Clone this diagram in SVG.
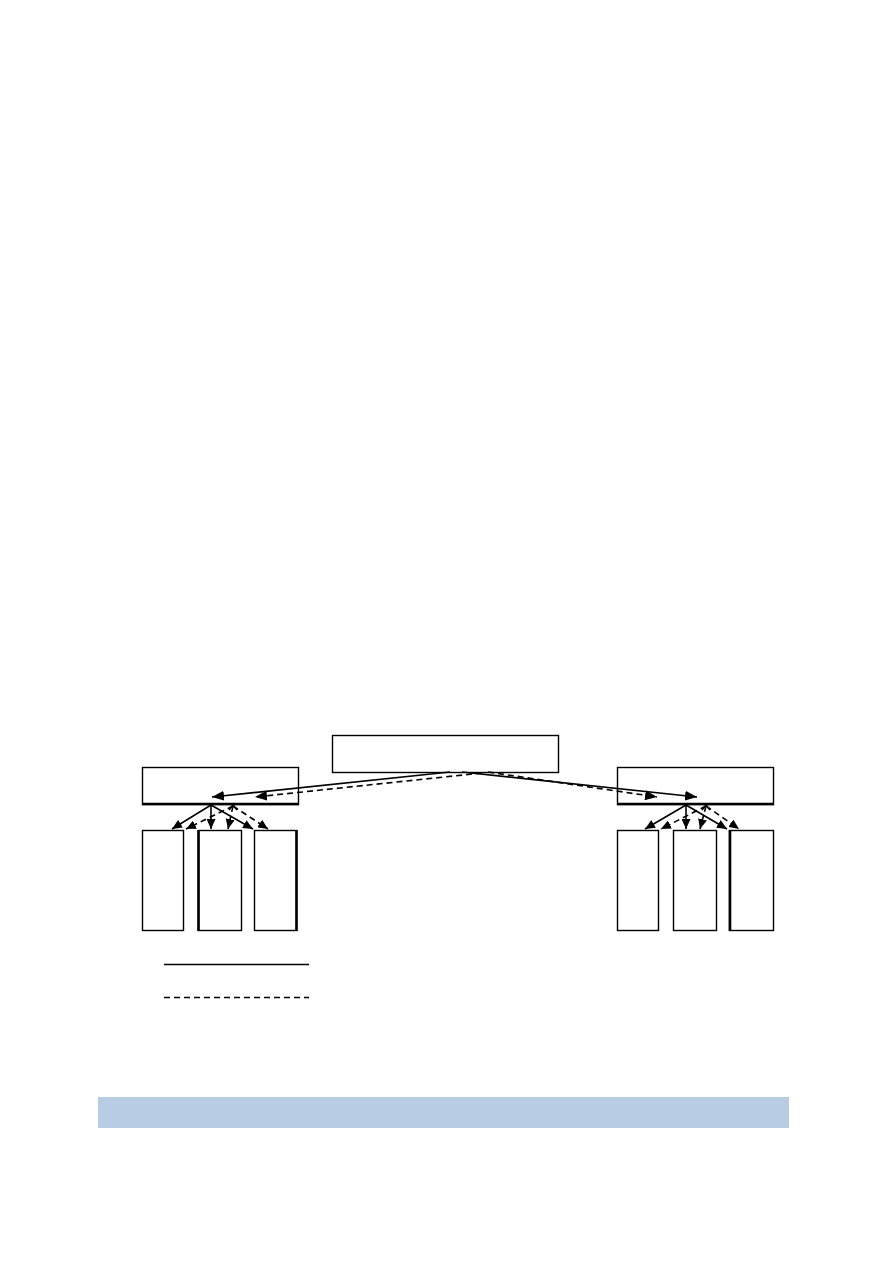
<svg xmlns="http://www.w3.org/2000/svg" width="893" height="1263" viewBox="0 0 893 1263">
<style>
.box{fill:#fff;stroke:#000;stroke-width:1.4}
.thick{stroke:#000;stroke-width:2.6}
.ln{fill:none;stroke:#000;stroke-width:1.6}
.dash{stroke-dasharray:6,4}
</style>
<defs>
<marker id="ah" viewBox="0 0 10 10" refX="10" refY="5" markerWidth="10" markerHeight="9" markerUnits="userSpaceOnUse" orient="auto" preserveAspectRatio="none">
<path d="M0,0 L10,5 L0,10 z" fill="#000"/>
</marker>
<marker id="ah2" viewBox="0 0 10 10" refX="10" refY="5" markerWidth="12" markerHeight="10" markerUnits="userSpaceOnUse" orient="auto" preserveAspectRatio="none">
<path d="M0,0 L10,5 L0,10 z" fill="#000"/>
</marker>
</defs>
<rect width="893" height="1263" fill="#fff"/>
<g id="top"><rect class="box" x="332.5" y="735.5" width="226" height="37"/></g>
<g id="midL"><rect class="box" x="142.5" y="767.5" width="156" height="37"/><line class="thick" x1="142" y1="804" x2="299" y2="804"/></g>
<g id="midR"><rect class="box" x="617.5" y="767.5" width="156" height="37"/><line class="thick" x1="617" y1="804" x2="774" y2="804"/></g>
<g id="L1"><rect class="box" x="142.5" y="830.5" width="41" height="100"/></g>
<g id="L2"><rect class="box" x="198.5" y="830.5" width="43" height="100"/><line class="thick" x1="198.5" y1="830" x2="198.5" y2="931"/></g>
<g id="L3"><rect class="box" x="254.5" y="830.5" width="42" height="100"/><line class="thick" x1="296.5" y1="830" x2="296.5" y2="931"/></g>
<g id="R1"><rect class="box" x="617.5" y="830.5" width="41" height="100"/></g>
<g id="R2"><rect class="box" x="673.5" y="830.5" width="43" height="100"/></g>
<g id="R3"><rect class="box" x="729.5" y="830.5" width="44" height="100"/><line class="thick" x1="730" y1="830" x2="730" y2="931"/></g>
<g id="connectors">
<line class="ln" x1="450" y1="772" x2="212" y2="797" marker-end="url(#ah2)"/>
<line class="ln dash" x1="482" y1="773" x2="255" y2="797" marker-end="url(#ah2)"/>
<line class="ln" x1="462" y1="772" x2="697" y2="797" marker-end="url(#ah2)"/>
<line class="ln dash" x1="488" y1="772" x2="657" y2="797" marker-end="url(#ah2)"/>
<line class="ln" x1="211" y1="805" x2="172" y2="829" marker-end="url(#ah)"/>
<line class="ln" x1="211" y1="805" x2="211" y2="829" marker-end="url(#ah)"/>
<line class="ln" x1="211" y1="805" x2="253" y2="829" marker-end="url(#ah)"/>
<line class="ln dash" x1="233" y1="806" x2="186" y2="829" marker-end="url(#ah)"/>
<line class="ln dash" x1="233" y1="806" x2="228" y2="829" marker-end="url(#ah)"/>
<line class="ln dash" x1="233" y1="806" x2="268" y2="829" marker-end="url(#ah)"/>
<path d="M229,810 L233,805 L237,810" class="ln"/>
<line class="ln" x1="686" y1="805" x2="645" y2="829" marker-end="url(#ah)"/>
<line class="ln" x1="686" y1="805" x2="686" y2="829" marker-end="url(#ah)"/>
<line class="ln" x1="686" y1="805" x2="727" y2="829" marker-end="url(#ah)"/>
<line class="ln dash" x1="706" y1="806" x2="661" y2="829" marker-end="url(#ah)"/>
<line class="ln dash" x1="706" y1="806" x2="700" y2="829" marker-end="url(#ah)"/>
<line class="ln dash" x1="706" y1="806" x2="739" y2="829" marker-end="url(#ah)"/>
<path d="M702,810 L706,805 L710,810" class="ln"/>
</g>
<g id="legend">
<line class="ln" x1="164" y1="964.5" x2="309" y2="964.5"/>
<line class="ln dash" x1="164" y1="997.5" x2="309" y2="997.5"/>
</g>
<rect x="98" y="1097" width="691" height="31" fill="#B8CCE4"/>
</svg>
